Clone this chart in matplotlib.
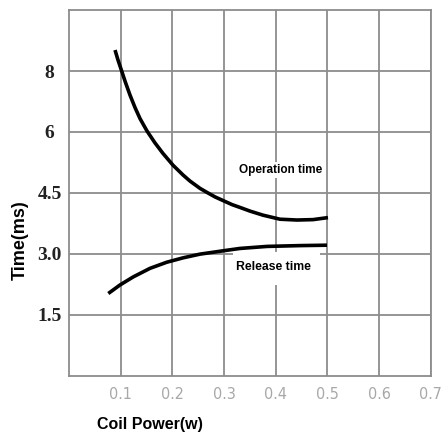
import numpy as np
import matplotlib
matplotlib.use("Agg")
import matplotlib.pyplot as plt
from matplotlib.patches import Rectangle

# values
op_power = [0.0890, 0.0948, 0.1015, 0.1083, 0.1180, 0.1277, 0.1373, 0.1509, 0.1663,
            0.1818, 0.2012, 0.2205, 0.2340, 0.2534, 0.2669, 0.2824, 0.2979, 0.3153,
            0.3308, 0.3501, 0.3752, 0.4081, 0.4410, 0.4720, 0.5010]
op_time = [8.69, 8.36, 8.02, 7.67, 7.21, 6.80, 6.44, 6.03, 5.73,
           5.47, 5.18, 4.94, 4.79, 4.61, 4.51, 4.40, 4.31, 4.21,
           4.14, 4.05, 3.95, 3.85, 3.83, 3.84, 3.89]

rel_power = [0.0760, 0.0986, 0.1244, 0.1567, 0.1890, 0.2211, 0.2534, 0.3081,
             0.3308, 0.3830, 0.4468, 0.4990]
rel_time = [2.02, 2.23, 2.43, 2.64, 2.79, 2.90, 2.99, 3.09,
            3.13, 3.18, 3.20, 3.21]

x_ticks = [0.1, 0.2, 0.3, 0.4, 0.5, 0.6, 0.7]
y_ticks = [1.5, 3.0, 4.5, 6, 8]
y_ticklabels = ["1.5", "3.0", "4.5", "6", "8"]

# the time axis is evenly spaced between uneven labels
knots_ms = [0, 1.5, 3.0, 4.5, 6, 8, 10]
knots_pos = [0, 1, 2, 3, 4, 5, 6]

def fwd(v):
    return np.interp(v, knots_ms, knots_pos)

def inv(p):
    return np.interp(p, knots_pos, knots_ms)

grid_c = "#8c8c8c"

fig = plt.figure(figsize=(4.41, 4.41), dpi=100)
ax = fig.add_axes([0.1565, 0.1485, 0.8205, 0.8285])
ax.set_yscale("function", functions=(fwd, inv))

ax.plot(op_power, op_time, color="black", lw=2.6, solid_capstyle="butt",
        solid_joinstyle="round", zorder=3)
ax.plot(rel_power, rel_time, color="black", lw=2.6, solid_capstyle="butt",
        solid_joinstyle="round", zorder=3)

ax.set_xlim(0, 0.7)
ax.set_ylim(0, 10)
ax.set_xticks(x_ticks)
ax.set_xticklabels([f"{v:.1f}" for v in x_ticks], color="#a8a8a8", fontsize=11.5,
                   family="DejaVu Sans", fontstretch="condensed")
ax.set_yticks(y_ticks)
ax.set_yticklabels(y_ticklabels, fontsize=14, fontweight="bold",
                   family="Liberation Serif", color="#222222")
for lab in ax.get_yticklabels():
    lab.set_ha("center")
ax.tick_params(axis="y", length=0, pad=14)
ax.tick_params(axis="x", length=0, pad=8)

ax.grid(True, color=grid_c, lw=1.3)
ax.set_axisbelow(True)
for s in ax.spines.values():
    s.set_color(grid_c)
    s.set_linewidth(1.3)

# white patch behind the release label, where the grid is blanked out
ax.add_patch(Rectangle((0.453, 0.248), 0.24, 0.09, transform=ax.transAxes,
                       facecolor="white", edgecolor="none", zorder=1))

txt_font = ["Liberation Sans Narrow", "Liberation Sans"]
ax.text(0.41, 5.06, "Operation time", fontsize=8.5, fontweight="bold", family=txt_font,
        ha="center", va="center", zorder=4,
        bbox=dict(facecolor="white", edgecolor="none", pad=1.5))
ax.text(0.396, 2.68, "Release time", fontsize=8.8, fontweight="bold", family=txt_font,
        ha="center", va="center", zorder=4)

fig.text(97 / 441, 1 - 425 / 441, "Coil Power(w)", fontsize=11.5, fontweight="bold",
         family=txt_font, ha="left", va="center")
fig.text(20 / 441, 1 - 240 / 441, "Time(ms)", fontsize=13, fontweight="bold",
         family=txt_font, ha="center", va="center", rotation=90)

fig.savefig("out.png", dpi=100)
